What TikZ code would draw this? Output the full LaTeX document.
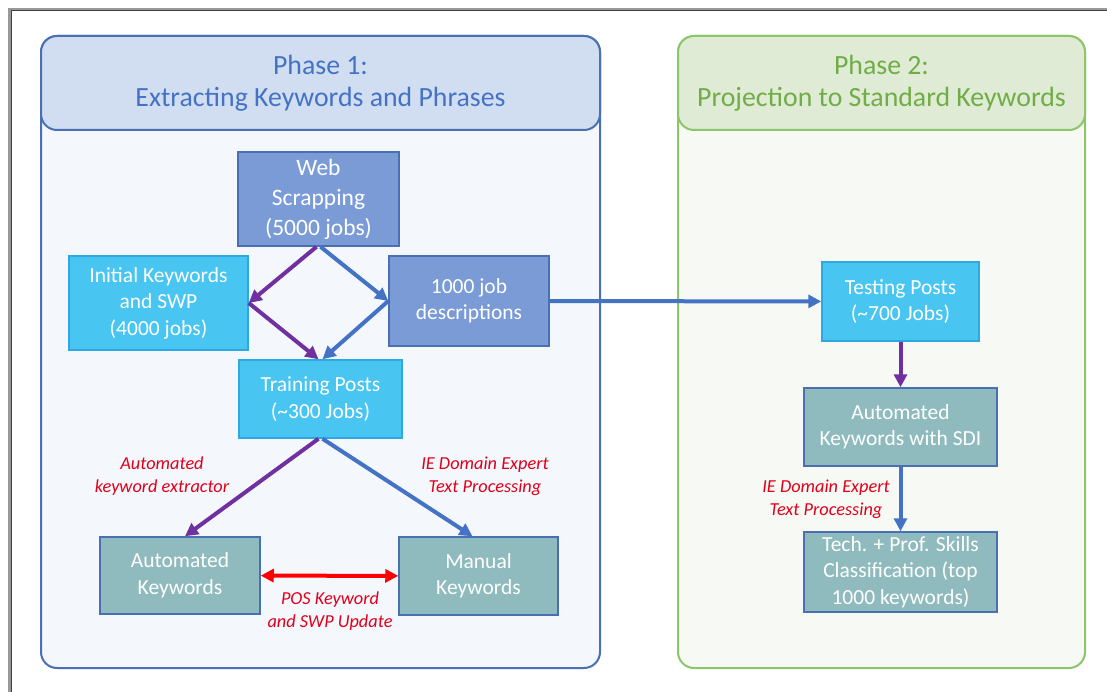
\documentclass[tikz,border=0pt]{standalone}
\usepackage{fontspec}
\setmainfont{Carlito}
\usetikzlibrary{arrows.meta}
\definecolor{blueline}{HTML}{4A6FB3}
\definecolor{bluehead}{HTML}{D1DEF1}
\definecolor{bluebody}{HTML}{F4F7FC}
\definecolor{greenline}{HTML}{8DC66A}
\definecolor{greenhead}{HTML}{DFEBD5}
\definecolor{greenbody}{HTML}{F7F9F5}
\definecolor{titleblue}{HTML}{4472C4}
\definecolor{titlegreen}{HTML}{70AD47}
\definecolor{darkfill}{HTML}{7B9BD6}
\definecolor{cyanfill}{HTML}{48C5F1}
\definecolor{cyanline}{HTML}{2EA8E0}
\definecolor{tealfill}{HTML}{8FBBBE}
\definecolor{arrowblue}{HTML}{4472C4}
\definecolor{arrowpurple}{HTML}{7030A0}
\definecolor{labelred}{HTML}{E0001A}

\begin{document}
\begin{tikzpicture}[x=1pt, y=-1pt,
  box/.style={draw=blueline, line width=1.5pt, text=white, align=center, inner sep=0pt,
    font=\fontsize{21.5}{26.5}\selectfont},
  darkbox/.style={box, fill=darkfill},
  cyanbox/.style={box, fill=cyanfill, draw=cyanline},
  tealbox/.style={box, fill=tealfill},
  head/.style={line width=2pt, rounded corners=16pt, align=center, inner sep=0pt,
    minimum height=94pt, font=\fontsize{27.8}{32}\selectfont},
  flow/.style={line width=4pt, draw=arrowblue, -{Triangle[length=13pt,width=13pt]}},
  auto/.style={flow, draw=arrowpurple},
  note/.style={text=labelred, align=center, font=\fontsize{18.3}{23}\selectfont\itshape}]
\useasboundingbox (0,0) rectangle (1107,692);
\draw[line width=3pt, black!40] (1107,9.5) -| (9.5,692);
\draw[line width=1pt, black!75] (1107,11) -| (11,692);

\draw[line width=2pt, rounded corners=16pt, draw=blueline, fill=bluebody] (41,36) rectangle (600,668);
\node[head, draw=blueline, fill=bluehead, text=titleblue, minimum width=559pt] (head1) at (320.5,83)
  {Phase 1:\\Extracting Keywords and Phrases};
\draw[line width=2pt, rounded corners=16pt, draw=greenline, fill=greenbody] (678,36) rectangle (1085,668);
\node[head, draw=greenline, fill=greenhead, text=titlegreen, minimum width=407pt] (head2) at (881.5,83)
  {Phase 2:\\Projection to Standard Keywords};

\node[darkbox, minimum width=161pt, minimum height=94pt, font=\fontsize{23.5}{30}\selectfont] (web) at (318.5,199)
  {Web\\Scrapping\\(5000 jobs)};
\node[cyanbox, minimum width=179pt, minimum height=94pt] (init) at (158.5,303)
  {Initial Keywords\\and SWP\\(4000 jobs)};
\node[darkbox, minimum width=160pt, minimum height=90pt] (jobs) at (469,301)
  {1000 job\\descriptions};
\node[cyanbox, minimum width=163pt, minimum height=78pt] (train) at (320.5,399)
  {Training Posts\\(\textasciitilde 300 Jobs)};
\node[tealbox, minimum width=160pt, minimum height=77pt] (autokw) at (180,575.5)
  {Automated\\Keywords};
\node[tealbox, minimum width=159pt, minimum height=78pt] (manual) at (478.5,576)
  {Manual\\Keywords};
\node[cyanbox, minimum width=157pt, minimum height=79pt] (test) at (900.5,301.5)
  {Testing Posts\\(\textasciitilde 700 Jobs)};
\node[tealbox, minimum width=193pt, minimum height=78pt] (sdi) at (900.5,427)
  {Automated\\Keywords with SDI};
\node[tealbox, minimum width=193pt, minimum height=80pt] (skills) at (900.5,572)
  {Tech. + Prof. Skills\\Classification (top\\1000 keywords)};

\draw[auto] ([xshift=-2pt]web.south) -- (init.east);
\draw[flow] ([xshift=2pt]web.south) -- (jobs.west);
\draw[auto] (init.east) -- ([xshift=-2pt]train.north);
\draw[flow] (jobs.west) -- ([xshift=2pt]train.north);
\draw[auto] ([xshift=-2pt]train.south) -- ([xshift=5pt]autokw.north);
\draw[flow] ([xshift=2pt]train.south) -- ([xshift=-6pt]manual.north);
\draw[line width=4pt, red, {Triangle[length=13pt,width=13pt]}-{Triangle[length=13pt,width=13pt]}] (autokw) -- (manual);
\draw[flow] (jobs) -- (test);
\draw[auto] (test) -- (sdi);
\draw[flow] (sdi) -- (skills);

\node[note] (lab1) at (162,476) {Automated\\keyword extractor};
\node[note] (lab2) at (485,476) {IE Domain Expert\\Text Processing};
\node[note] (lab3) at (330,611) {POS Keyword\\and SWP Update};
\node[note] (lab4) at (826,499) {IE Domain Expert\\Text Processing};
\end{tikzpicture}
\end{document}
